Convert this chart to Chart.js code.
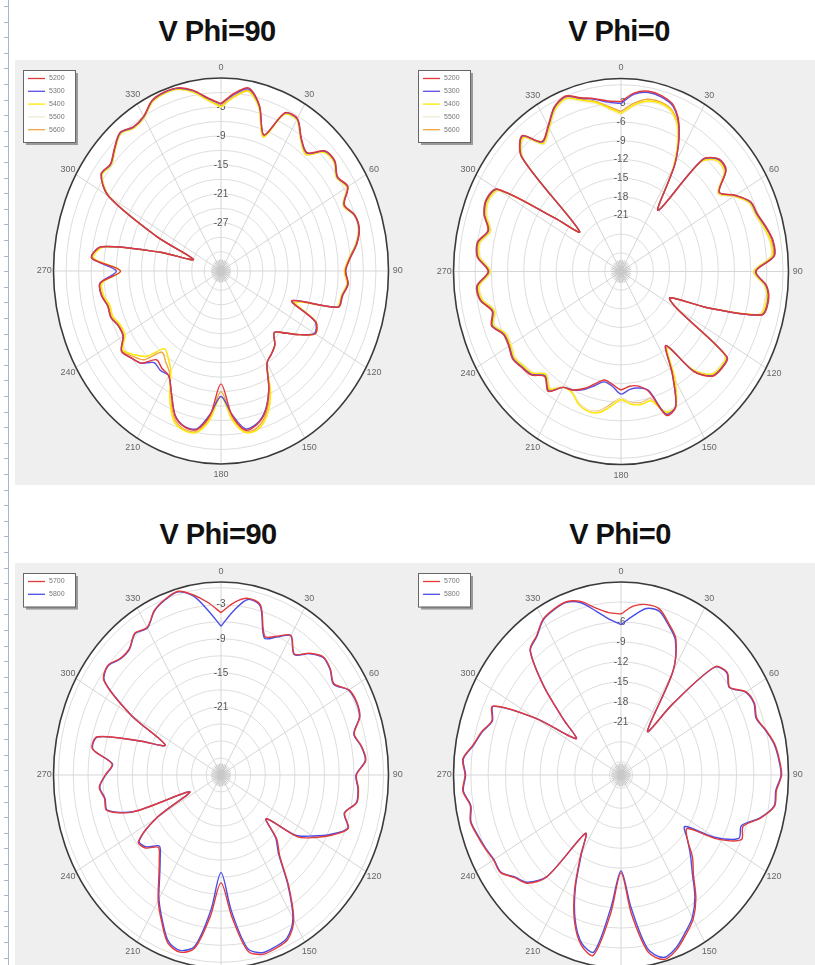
<!DOCTYPE html>
<html>
<head>
<meta charset="utf-8">
<script src="https://cdn.jsdelivr.net/npm/chart.js@4.4.1/dist/chart.umd.min.js"></script>
<style>
  html,body{margin:0;padding:0;background:#fff;}
  body{width:815px;height:965px;overflow:hidden;position:relative;font-family:"Liberation Sans",Arial,sans-serif;}
  .ruler{position:absolute;left:8px;top:0;width:1px;height:965px;background:#a9b5cc;}
  .ticks{position:absolute;left:4px;top:6px;width:4px;height:960px;background:repeating-linear-gradient(to bottom,#a9b5cc 0 1px,transparent 1px 15.6px);}
  .title{position:absolute;width:300px;text-align:center;font-size:29px;line-height:30px;color:#111;font-weight:bold;letter-spacing:-0.6px;}
  canvas{position:absolute;background:#efefef;}
</style>
</head>
<body>
<div class="ruler"></div><div class="ticks"></div>
<div class="title" style="left:67px;top:16px;">V Phi=90</div>
<div class="title" style="left:469px;top:16px;">V Phi=0</div>
<div class="title" style="left:68px;top:519px;">V Phi=90</div>
<div class="title" style="left:470px;top:519px;">V Phi=0</div>
<canvas id="tl" width="395" height="425" style="left:15px;top:60px;"></canvas>
<canvas id="tr" width="405" height="425" style="left:410px;top:60px;"></canvas>
<canvas id="bl" width="395" height="425" style="left:15px;top:563px;"></canvas>
<canvas id="br" width="405" height="425" style="left:410px;top:563px;"></canvas>
<script>
// ---------------- data ----------------
const angles = [0,5,10,15,20,25,30,35,40,45,50,55,60,65,70,75,80,85,90,95,100,105,110,115,120,125,130,135,140,145,150,155,160,165,170,175,180,185,190,195,200,205,210,215,220,225,230,235,240,245,250,255,260,265,270,275,280,285,290,295,300,305,310,315,320,325,330,335,340,345,350,355];
const angleLabels = [0,30,60,90,120,150,180,210,240,270,300,330];

const topSeriesNames = ["5200","5300","5400","5500","5600"];
const bottomSeriesNames = ["5700","5800"];

// top-left: V Phi=90 (dB)
const tl5200 = [-2.3,0,1.5,-1.5,-7,-0.8,-0.5,-3.5,-5,-1.8,-1.5,-3,-2,-4.5,-3,-2.8,-4,-6,-7.3,-6.5,-7.5,-8,-19,-12,-11,-14,-17,-19,-17,-16,-15,-10,-6,-4,-3.5,-7,-13.6,-7,-3.6,-3.5,-5,-9,-12,-12.4,-13,-10,-9,-8,-10,-10,-9,-9,-8,-8,-13,-6,-8,-22,-30,-20,-6,-2,-2.5,-1,0.5,-0.5,0,2,2.5,2.3,1,-1];
const tl5300 = [-2.4,-0.2,1.3,-1.6,-7,-0.9,-0.6,-3.6,-5.1,-1.9,-1.6,-3.1,-2.1,-4.6,-3.1,-2.9,-4.1,-6.1,-7.2,-6.6,-7.6,-8.1,-19,-12.2,-11.2,-14,-17,-19,-17,-16,-15,-10,-6.2,-4.2,-3.8,-7.2,-11,-7.2,-3.8,-3.6,-5.1,-9,-12,-11.8,-12.2,-10,-9,-8,-10,-10,-9,-9,-8,-8,-12,-6,-8,-22,-30,-20,-6,-2.1,-2.6,-1.1,0.4,-0.6,-0.1,1.9,2.4,2.2,0.9,-1.1];
const tl5400 = [-3,-0.8,0.8,-2,-7.5,-1.2,-0.8,-3.8,-5.5,-2.2,-1.8,-3.3,-2.3,-4.8,-3.2,-3,-4.3,-6.3,-7.5,-6.8,-7.8,-8.3,-18,-12,-11,-14,-17,-19,-17,-16,-15,-9,-5,-3,-3,-6,-11,-6,-3,-2.8,-4,-8,-13,-15,-16,-12,-10,-8.5,-10.5,-10.5,-9.5,-9.5,-8.5,-8.5,-13,-6.5,-8.5,-22,-30,-20,-6.3,-2.3,-2.8,-1.3,0.2,-0.8,-0.3,1.7,2.2,2,0.6,-1.5];
const tl5500 = [-3.1,-0.9,0.7,-2.1,-7.5,-1.3,-0.9,-3.9,-5.6,-2.3,-1.9,-3.4,-2.4,-4.9,-3.3,-3.1,-4.4,-6.4,-7.6,-6.9,-7.9,-8.4,-18,-12,-11,-14,-17,-19,-17,-16,-15,-9,-5,-3,-3,-6,-11,-6,-3,-2.8,-4,-8,-13,-15,-16,-12,-10,-8.5,-10.5,-10.5,-9.5,-9.5,-8.5,-8.5,-13,-6.5,-8.5,-22,-30,-20,-6.4,-2.4,-2.9,-1.4,0.1,-0.9,-0.4,1.6,2.1,1.9,0.5,-1.6];
const tl5600 = [-2.8,-0.6,1,-1.8,-7.3,-1,-0.7,-3.7,-5.3,-2,-1.7,-3.2,-2.2,-4.7,-3.1,-2.9,-4.2,-6.2,-7.4,-6.7,-7.7,-8.2,-18.5,-12,-11,-14,-17,-19,-17,-16,-15,-9.5,-5.5,-3.4,-3.2,-6.5,-12,-6.5,-3.2,-3,-4.5,-8.5,-12.5,-14,-15,-11,-9.5,-8.2,-10.2,-10.2,-9.2,-9.2,-8.2,-8.2,-13,-6.2,-8.2,-22,-30,-20,-6.2,-2.2,-2.7,-1.2,0.3,-0.7,-0.2,1.8,2.3,2.1,0.8,-1.3];

// top-right: V Phi=0 (dB)
const tr5200 = [-2.7,-1.2,-0.6,-0.8,-1.6,-4.5,-10,-18,-6.5,-4.4,-4.6,-7.8,-5.5,-3.5,-3.1,-2.2,-1.4,-1.5,-5,-2.9,-2.3,-3,-13,-20,-18,-6,-5.7,-6.2,-9,-15.5,-11,-6,-5.4,-10,-11.3,-11.5,-11,-11.8,-12.3,-11.3,-10,-9,-8.5,-6.5,-8,-6.5,-6,-5.5,-6,-6,-4.5,-5.3,-3.5,-3.2,-5.4,-3.3,-3,-4.5,-3,-2.5,-3.5,-15,-20,-4,-1.5,-4.5,-3,-0.8,0,-1.1,-1.8,-2.5];
const tr5300 = [-3,-1.4,-0.8,-1,-1.8,-4.6,-10,-18,-6.6,-4.5,-4.7,-7.8,-5.6,-3.6,-3.2,-2.3,-1.5,-1.6,-5.1,-3,-2.4,-3.1,-13,-20,-18,-6.1,-5.8,-6.3,-9.1,-15.5,-11,-6.1,-5.6,-10.2,-11,-11,-10.3,-11.5,-12,-11,-9.8,-9,-8.5,-6.6,-8.1,-6.6,-6.1,-5.6,-6.1,-6.1,-4.6,-5.4,-3.6,-3.3,-5.5,-3.4,-3.1,-4.6,-3.1,-2.6,-3.6,-15,-20,-4.1,-1.6,-4.6,-3.1,-0.9,-0.1,-1.2,-1.9,-2.7];
const tr5400 = [-4.6,-3.2,-2.2,-2,-2.6,-5,-10.5,-18,-7,-4.8,-5,-8,-5.8,-3.8,-3.4,-2.6,-1.9,-2,-5.4,-3.2,-2.7,-3.4,-13,-20,-18,-6.4,-6,-6.6,-9.5,-15,-10,-6,-6,-8.5,-8.3,-8.6,-9.4,-8.2,-7,-6.7,-7.2,-8.5,-8.5,-7,-8.4,-6.9,-6.4,-5.9,-6.4,-6.4,-4.9,-5.7,-3.9,-3.6,-5.8,-3.7,-3.4,-4.9,-3.4,-2.9,-3.9,-15,-20,-4.4,-1.9,-4.9,-3.4,-1.2,-0.4,-1.5,-2.4,-3.6];
const tr5500 = [-4.8,-3.4,-2.4,-2.2,-2.8,-5.2,-10.5,-18,-7.2,-5,-5.2,-8.2,-6,-4,-3.6,-2.8,-2.1,-2.2,-5.6,-3.4,-2.9,-3.6,-13,-20,-18,-6.6,-6.2,-6.8,-9.7,-15,-10,-6.2,-6.2,-8.7,-8.5,-8.8,-9.6,-8.4,-7.2,-6.9,-7.4,-8.7,-8.7,-7.2,-8.6,-7.1,-6.6,-6.1,-6.6,-6.6,-5.1,-5.9,-4.1,-3.8,-6,-3.9,-3.6,-5.1,-3.6,-3.1,-4.1,-15,-20,-4.6,-2.1,-5.1,-3.6,-1.4,-0.6,-1.7,-2.6,-3.8];
const tr5600 = [-4.3,-2.9,-1.9,-1.8,-2.4,-4.8,-10.3,-18,-6.8,-4.6,-4.8,-7.9,-5.6,-3.7,-3.3,-2.4,-1.7,-1.8,-5.2,-3,-2.5,-3.2,-13,-20,-18,-6.2,-5.9,-6.4,-9.3,-15.2,-10.5,-6,-5.8,-8.8,-8.6,-8.9,-9.6,-8.6,-7.3,-6.9,-7.4,-8.6,-8.6,-6.8,-8.2,-6.7,-6.2,-5.7,-6.2,-6.2,-4.7,-5.5,-3.7,-3.4,-5.6,-3.5,-3.2,-4.7,-3.2,-2.7,-3.7,-15,-20,-4.2,-1.7,-4.7,-3.2,-1,-0.2,-1.3,-2.2,-3.4];

// bottom-left: V Phi=90 (dB)
const bl5700 = [-4.4,-2.5,-1.4,-2,-7,-6,-4.6,-7,-5,-3.6,-4,-5,-3,-2.6,-3,-5,-4,-3.5,-5.5,-5,-5,-7,-5.5,-8,-11,-14,-21,-17,-14.5,-9,-3.5,-1,-0.5,-0.3,-1.5,-8,-14,-8,-2,-0.7,-1.5,-4.5,-7.5,-11,-13.5,-15,-13,-12.5,-18,-26,-14,-9,-9,-8.2,-9.5,-10.8,-6.5,-7,-15.5,-20.5,-12,-4,-3,-4,-4,-2.5,-3,-1,0,0.5,-0.8,-2.5];
const bl5800 = [-6.8,-4,-1.6,-2.2,-7.3,-6.2,-4.7,-7.1,-5.1,-3.7,-4.1,-5.1,-3.1,-2.7,-3.1,-5.1,-4.1,-3.6,-5.6,-5.1,-5.1,-7.1,-5.6,-8.3,-11.5,-14.5,-21,-17.3,-14.8,-9.3,-3.8,-1.3,-0.8,-0.6,-2,-9,-15.8,-9,-2.4,-1,-1.8,-4.8,-7.8,-11.3,-13.8,-15.3,-13.3,-12.7,-18,-26,-14.2,-9.1,-9.1,-8.3,-9.6,-10.9,-6.6,-7.1,-15.5,-20.5,-12,-4.1,-3.1,-4.1,-4.1,-2.6,-3.1,-1.1,-0.1,0.4,-1,-4];

// bottom-right: V Phi=0 (dB)
const br5700 = [-4.8,-3.5,-3,-3.2,-4.8,-6.5,-11,-21,-15,-6,-5,-6,-4,-3.5,-4,-3,-2,-1.5,-1.2,-2,-2,-4,-6.5,-6,-9.8,-15,-14,-11.5,-9.5,-6.4,-4,-2.5,-1,-0.3,-2,-8,-14.3,-8,-1.5,-2.5,-5.5,-10,-15,-18.3,-9,-6,-5,-3.5,-3.5,-3,-2.5,-2,-2.5,-1.5,-2,-1.5,-3,-4,-5.2,-4.5,-12,-19.5,-16,-10,-4.5,-3.5,-2,-1.5,-1.3,-2,-3.5,-4.5];
const br5800 = [-6.4,-5,-3.6,-3.5,-5,-6.7,-11,-21,-15,-6.1,-5.1,-6.1,-4.1,-3.6,-4.1,-3.1,-2.1,-1.6,-1.3,-2.1,-2.1,-4.1,-6.8,-6.5,-10.3,-15.5,-14,-12,-9.8,-6.7,-4.3,-2.8,-1.3,-0.6,-2.5,-9,-14.6,-9,-2,-2.8,-5.8,-10.3,-15.3,-18.3,-9.2,-6.2,-5.1,-3.6,-3.6,-3.1,-2.6,-2.1,-2.6,-1.6,-2.1,-1.6,-3.1,-4.1,-5.3,-4.6,-12,-19.5,-16,-10.1,-4.6,-3.6,-2.1,-1.6,-1.4,-2.2,-4,-5.5];

// radial scale ranges and tick labels per panel
const tlRange = [-37, 3],  tlTicks = [-3,-9,-15,-21,-27];
const trRange = [-30, 1],  trTicks = [-3,-6,-9,-12,-15,-18,-21];
const blRange = [-33, 1],  blTicks = [-3,-9,-15,-21];
const brRange = [-29, 0],  brTicks = [-6,-9,-12,-15,-18,-21];

// ---------------- drawing ----------------
const topColors = ["#e0383a","#5a4ee6","#ffe800","#f1ead2","#f0a640"];
const bottomColors = ["#e23a3a","#4a4ee8"];

function toXY(angs, vals, min){
  const pts = angs.map((a,i)=>{
    const r = vals[i]-min, t = a*Math.PI/180;
    return {x:r*Math.sin(t), y:r*Math.cos(t)};
  });
  pts.push(pts[0]);
  return pts;
}

const polarDecor = {
  id:'polarDecor',
  beforeDatasetsDraw(chart, args, o){
    const {ctx, scales:{x,y}} = chart;
    const R = o.range[1]-o.range[0], min = o.range[0];
    const cx = x.getPixelForValue(0), cy = y.getPixelForValue(0);
    const rx = r => x.getPixelForValue(r)-cx, ry = r => cy-y.getPixelForValue(r);
    ctx.save();
    ctx.beginPath(); ctx.ellipse(cx,cy,rx(R),ry(R),0,0,Math.PI*2); ctx.fillStyle='#ffffff'; ctx.fill();
    ctx.strokeStyle='#dedede'; ctx.lineWidth=1;
    for(let v=0; v>min; v-=3){ const r=v-min; ctx.beginPath(); ctx.ellipse(cx,cy,rx(r),ry(r),0,0,Math.PI*2); ctx.stroke(); }
    ctx.strokeStyle='#d6d6d6';
    for(let a=0;a<360;a+=30){ const t=a*Math.PI/180; ctx.beginPath(); ctx.moveTo(cx,cy); ctx.lineTo(x.getPixelForValue(R*Math.sin(t)), y.getPixelForValue(R*Math.cos(t))); ctx.stroke(); }
    ctx.strokeStyle='#c8c8c8';
    for(let a=0;a<360;a+=10){ const t=a*Math.PI/180; const r=R*0.06; ctx.beginPath(); ctx.moveTo(cx,cy); ctx.lineTo(x.getPixelForValue(r*Math.sin(t)), y.getPixelForValue(r*Math.cos(t))); ctx.stroke(); }
    ctx.beginPath(); ctx.ellipse(cx,cy,rx(R),ry(R),0,0,Math.PI*2); ctx.strokeStyle='#3a3a3a'; ctx.lineWidth=1.6; ctx.stroke();
    ctx.fillStyle='#555'; ctx.font='10px "Liberation Sans", Arial'; ctx.textAlign='center'; ctx.textBaseline='middle';
    for(const t of o.ticks){ ctx.fillText(String(t), cx, y.getPixelForValue(t-min)); }
    ctx.font='9px "Liberation Sans", Arial'; ctx.fillStyle='#666';
    for(const a of angleLabels){ const t=a*Math.PI/180, rr=R*1.055; ctx.fillText(String(a), x.getPixelForValue(rr*Math.sin(t)), y.getPixelForValue(rr*Math.cos(t))); }
    ctx.restore();
  },
  afterDraw(chart, args, o){
    const ctx = chart.ctx, ds = chart.data.datasets;
    const bx = 8, by = 10, bw = 52, bh = 8 + ds.length*12.8;
    ctx.save();
    ctx.fillStyle='#9a9a9a'; ctx.fillRect(bx+3,by+3,bw,bh);
    ctx.fillStyle='#fff'; ctx.fillRect(bx,by,bw,bh);
    ctx.strokeStyle='#666'; ctx.lineWidth=1; ctx.strokeRect(bx+0.5,by+0.5,bw,bh);
    ctx.font='7px "Liberation Sans", Arial'; ctx.textBaseline='middle'; ctx.textAlign='left';
    ds.forEach((d,i)=>{
      const yy = by+8.5+i*12.8;
      ctx.strokeStyle=d.borderColor; ctx.lineWidth=1.3; ctx.beginPath(); ctx.moveTo(bx+5,yy); ctx.lineTo(bx+22,yy); ctx.stroke();
      ctx.fillStyle='#777'; ctx.fillText(d.label, bx+26, yy);
    });
    ctx.restore();
  }
};

function makeChart(id, names, colors, seriesVals, range, ticks, pad){
  const min = range[0], R = range[1]-range[0];
  const datasets = seriesVals.map((v,i)=>({
    label:names[i], data:toXY(angles, v, min), showLine:true, borderColor:colors[i],
    backgroundColor:colors[i], borderWidth:1.4, pointRadius:0, tension:0.3, fill:false
  }));
  new Chart(document.getElementById(id), {
    type:'scatter',
    data:{datasets},
    options:{
      responsive:false, animation:false, events:[], devicePixelRatio:1,
      layout:{padding:pad},
      scales:{ x:{type:'linear',min:-R,max:R,display:false}, y:{type:'linear',min:-R,max:R,display:false} },
      plugins:{ legend:{display:false}, tooltip:{enabled:false}, polarDecor:{range, ticks} }
    },
    plugins:[polarDecor]
  });
}

makeChart('tl', topSeriesNames, topColors, [tl5200,tl5300,tl5400,tl5500,tl5600], tlRange, tlTicks, {left:38.5,top:18,right:21.5,bottom:21});
makeChart('tr', topSeriesNames, topColors, [tr5200,tr5300,tr5400,tr5500,tr5600], trRange, trTicks, {left:43.5,top:18.5,right:26.5,bottom:20.5});
makeChart('bl', bottomSeriesNames, bottomColors, [bl5700,bl5800], blRange, blTicks, {left:38.5,top:19,right:21.5,bottom:20});
makeChart('br', bottomSeriesNames, bottomColors, [br5700,br5800], brRange, brTicks, {left:43.5,top:19,right:26.5,bottom:20});
</script>
</body>
</html>
